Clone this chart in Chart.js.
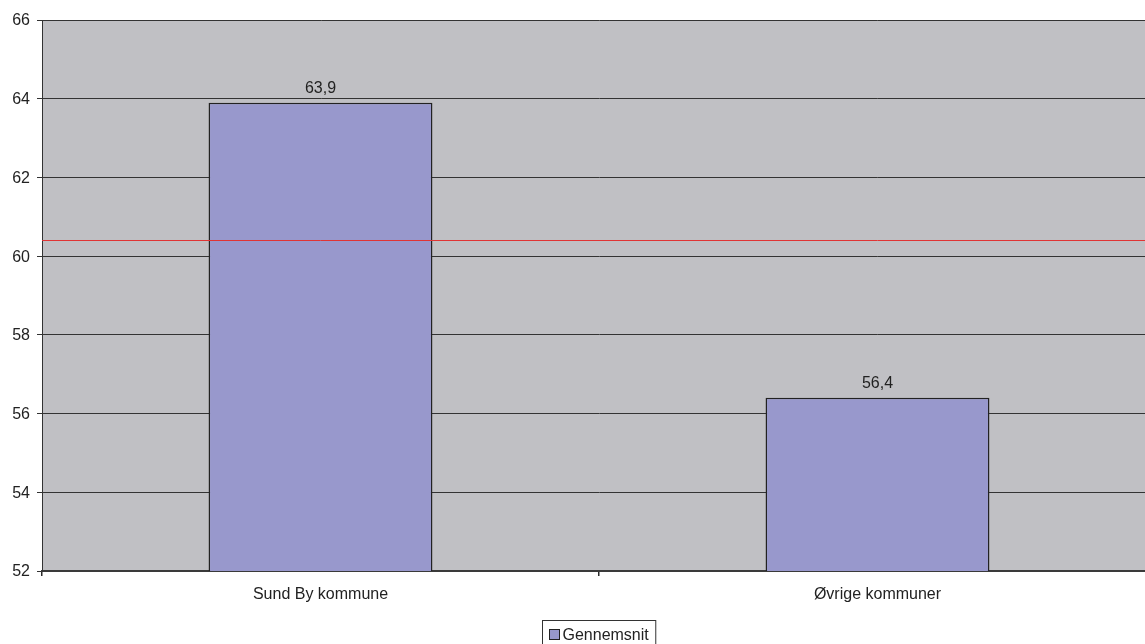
<!DOCTYPE html>
<html>
<head>
<meta charset="utf-8">
<script src="https://cdn.jsdelivr.net/npm/chart.js@4/dist/chart.umd.min.js"></script>
<style>
  html, body { margin: 0; padding: 0; background: #ffffff; overflow: hidden; }
  #wrap { width: 1156px; height: 644px; position: relative; }
</style>
</head>
<body>
<div id="wrap"><canvas id="c"></canvas></div>
<script>
// Municipalities compared
const categories = ['Sund By kommune', 'Øvrige kommuner'];
// Average score per municipality group
const seriesName = 'Gennemsnit';
const seriesValues = [63.9, 56.4];
// Overall average, drawn as a reference line
const overallAverage = [60.4];
// Value axis
const yTicks = [52, 54, 56, 58, 60, 62, 64, 66];

const FONT = '"Liberation Sans", Arial, sans-serif';
const TEXT = '#222222';
const BAR_FILL = '#9898cc';
const BAR_EDGE = '#222222';
const PLOT_BG = '#c0c0c4';

const fmt = v => v.toFixed(1).replace('.', ',');

const plotBackground = {
  id: 'plotBackground',
  beforeDraw(chart) {
    const { ctx, chartArea: a } = chart;
    ctx.save();
    ctx.fillStyle = PLOT_BG;
    ctx.fillRect(a.left, a.top, a.right - a.left, a.bottom - a.top);
    ctx.restore();
  }
};

const refLineAndLabels = {
  id: 'refLineAndLabels',
  afterDatasetsDraw(chart) {
    const { ctx, chartArea: a } = chart;
    const y = chart.scales.y;
    ctx.save();
    // overall average line
    const py = Math.round(y.getPixelForValue(overallAverage[0])) + 0.5;
    ctx.strokeStyle = '#e03434';
    ctx.lineWidth = 1;
    ctx.beginPath();
    ctx.moveTo(a.left, py);
    ctx.lineTo(a.right, py);
    ctx.stroke();
    // value labels above bars
    ctx.fillStyle = TEXT;
    ctx.font = '16px ' + FONT;
    ctx.textAlign = 'center';
    ctx.textBaseline = 'alphabetic';
    chart.getDatasetMeta(0).data.forEach((bar, i) => {
      ctx.fillText(fmt(seriesValues[i]), bar.x, bar.y - 10);
    });
    ctx.restore();
  }
};

const boxLegend = {
  id: 'boxLegend',
  afterDraw(chart) {
    const { ctx } = chart;
    ctx.save();
    ctx.font = '16px ' + FONT;
    const tw = ctx.measureText(seriesName).width;
    const sw = 10, gap = 3, padL = 7, padR = 7;
    const boxW = padL + sw + gap + tw + padR;
    const cx = 598.5;
    const bx = Math.round(cx - boxW / 2) + 0.5;
    const by = 620.5;
    ctx.strokeStyle = '#333333';
    ctx.lineWidth = 1;
    ctx.fillStyle = '#ffffff';
    ctx.fillRect(bx, by, boxW, 30);
    ctx.strokeRect(bx, by, boxW, 30);
    const sx = bx + padL, sy = 629.5;
    ctx.fillStyle = BAR_FILL;
    ctx.fillRect(sx, sy, sw, sw);
    ctx.strokeStyle = BAR_EDGE;
    ctx.strokeRect(sx, sy, sw, sw);
    ctx.fillStyle = TEXT;
    ctx.textAlign = 'left';
    ctx.textBaseline = 'alphabetic';
    ctx.fillText(seriesName, sx + sw + gap, 640);
    ctx.restore();
  }
};

new Chart(document.getElementById('c'), {
  type: 'bar',
  data: {
    labels: categories,
    datasets: [{
      label: seriesName,
      data: seriesValues,
      backgroundColor: BAR_FILL,
      borderColor: BAR_EDGE,
      borderWidth: 1.5,
      categoryPercentage: 1,
      barPercentage: 0.402
    }]
  },
  options: {
    responsive: true,
    maintainAspectRatio: false,
    animation: false,
    events: [],
    layout: { padding: { top: 20, right: 0, bottom: 0, left: 0 } },
    plugins: { legend: { display: false }, tooltip: { enabled: false } },
    scales: {
      x: {
        offset: true,
        afterFit(s) { s.height = 73; },
        grid: {
          offset: true,
          drawOnChartArea: false,
          drawTicks: true,
          tickLength: 5,
          color: '#2a2a2a',
          lineWidth: 1.5
        },
        border: { display: true, color: '#3a3a3a', width: 2 },
        ticks: { color: TEXT, font: { family: FONT, size: 16 }, padding: 9, maxRotation: 0 }
      },
      y: {
        min: yTicks[0],
        max: yTicks[yTicks.length - 1],
        afterFit(s) { s.width = 42; },
        afterBuildTicks(s) { s.ticks = yTicks.map(v => ({ value: v })); },
        grid: { color: '#333333', lineWidth: 1, tickLength: 5, drawTicks: true },
        border: { display: true, color: '#333333', width: 1 },
        ticks: { color: TEXT, font: { family: FONT, size: 16 }, padding: 7, labelOffset: 1 }
      }
    }
  },
  plugins: [plotBackground, refLineAndLabels, boxLegend]
});
</script>
</body>
</html>
